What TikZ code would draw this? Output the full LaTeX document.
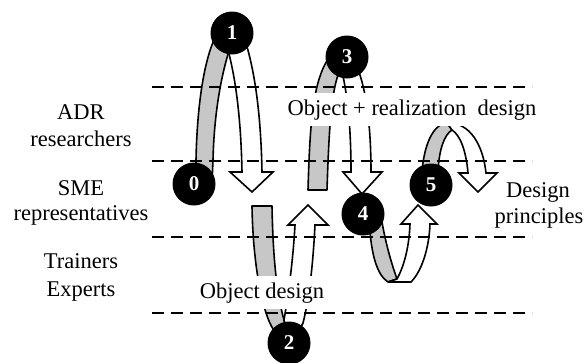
\documentclass[tikz,border=0pt]{standalone}
\usepackage{fontspec}
\setmainfont{Liberation Serif}
\begin{document}
\begin{tikzpicture}[x=1pt,y=-1pt,
  lane/.style={line width=2pt, dash pattern=on 12pt off 7pt},
  band/.style={fill=black!22, draw=black, line width=1.6pt, line join=round},
  warrow/.style={fill=white, draw=black, line width=1.6pt, line join=miter, miter limit=4},
  num/.style={circle, fill=black, text=white, minimum size=43pt, inner sep=0pt, font=\fontsize{21}{21}\selectfont\bfseries},
  lbl/.style={font=\fontsize{22.5}{22.5}\selectfont, anchor=base, inner sep=0pt},
  boxlbl/.style={lbl, fill=white, inner xsep=2pt, inner ysep=6pt}
]
\useasboundingbox (0,0) rectangle (587,362);

% Arrow A: 0 -> 1 -> down
\draw[band] (196,183) -- (196,160) .. controls (197,110) and (203,65) .. (214,40)
  -- (230,48) .. controls (221,75) and (214,115) .. (213,160) -- (212,183) -- cycle;
\draw[warrow] (228,50) .. controls (236,80) and (241,120) .. (242,172) -- (230,172) -- (252,192)
  -- (273,172) -- (262,172) .. controls (261,120) and (256,75) .. (245,40) -- cycle;

% Arrow B: down to 2 and up
\draw[band] (252,206) -- (272,206) .. controls (273,260) and (277,295) .. (284,320)
  -- (289,338) -- (276,333) .. controls (264,320) and (253,270) .. (252,206) -- cycle;
\draw[warrow] (284,320) .. controls (289,290) and (293,260) .. (295,225) -- (288,225) -- (308,205)
  -- (328,225) -- (315,225) .. controls (313,265) and (309,300) .. (303,323) -- (298,333) -- (289,338) -- cycle;

% Arrow C: up to 3 and down
\draw[band] (308,190) .. controls (310,120) and (313,80) .. (330,56) -- (342,66)
  -- (340,70) .. controls (331,90) and (329,130) .. (327,190) -- cycle;
\draw[warrow] (343,76) .. controls (348,100) and (351,130) .. (351,172) -- (343,172) -- (362,194)
  -- (382,172) -- (371,172) .. controls (371,130) and (367,95) .. (359,72) -- cycle;

% Arrow D: 4 -> down and up
\draw[band] (370,232) .. controls (372,255) and (377,275) .. (388,282) -- (397,279)
  .. controls (392,265) and (386,245) .. (382,222) -- cycle;
\draw[warrow] (388,282) -- (411,282) .. controls (421,272) and (429,250) .. (430,224) -- (437,224)
  -- (418,205) -- (401,224) -- (410,224) .. controls (409,250) and (403,268) .. (397,279) -- cycle;

% Arrow E: 5 -> up and down
\draw[band] (422,172) .. controls (424,145) and (433,124) .. (447,123) -- (452,130)
  .. controls (444,135) and (439,150) .. (438,172) -- cycle;
\draw[warrow] (447,123) .. controls (470,122) and (483,145) .. (486,173) -- (497,173) -- (478,192)
  -- (459,173) -- (468,173) .. controls (466,150) and (460,135) .. (452,130) -- cycle;

% lanes
\coordinate (l1a) at (152,86.5);  \coordinate (l1b) at (532,86.5);
\coordinate (l2a) at (152,161);   \coordinate (l2b) at (532,161);
\coordinate (l3a) at (152,236.5); \coordinate (l3b) at (532,236.5);
\coordinate (l4a) at (152,313);   \coordinate (l4b) at (532,313);
\draw[lane] (l1a) -- (l1b);
\draw[lane] (l2a) -- (l2b);
\draw[lane] (l3a) -- (l3b);
\draw[lane] (l4a) -- (l4b);

% labels
\node[lbl] (adr) at (81,119) {ADR};
\node[lbl] (res) at (81,146) {researchers};
\node[lbl] (sme) at (81,195) {SME};
\node[lbl] (rep) at (81,220) {representatives};
\node[lbl] (tra) at (81,268) {Trainers};
\node[lbl] (exp) at (81,296) {Experts};
\node[boxlbl] (od) at (262,298) {Object design};
\node[boxlbl] (ord) at (412,115) {Object + realization\ \ design};
\node[lbl] (dp1) at (538,197) {Design};
\node[lbl] (dp2) at (539,223) {principles};

% numbered circles
\node[num] (n1) at (232,33) {1};
\node[num] (n0) at (194,184) {0};
\node[num] (n2) at (289,343) {2};
\node[num] (n3) at (347,57) {3};
\node[num] (n4) at (363,214) {4};
\node[num] (n5) at (431,185) {5};
\end{tikzpicture}
\end{document}
